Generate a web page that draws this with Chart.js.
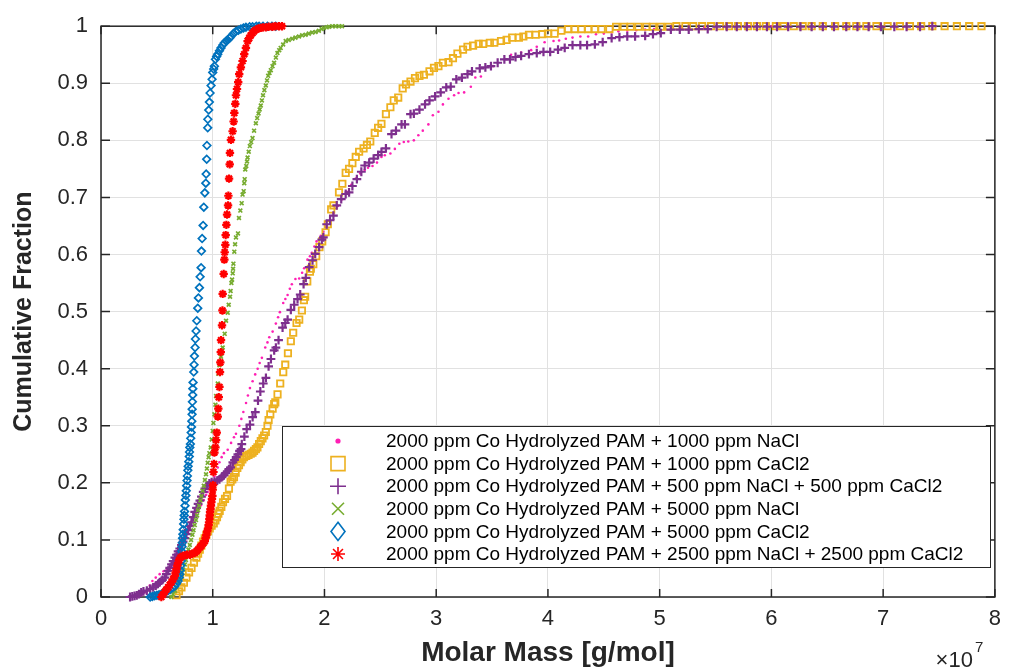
<!DOCTYPE html>
<html>
<head>
<meta charset="utf-8">
<script src="https://cdn.jsdelivr.net/npm/chart.js@4.4.1/dist/chart.umd.min.js"></script>
<style>
  html, body { margin: 0; padding: 0; background: #fff; }
  canvas { display: block; }
</style>
</head>
<body>
<canvas id="chart" width="1010" height="669"></canvas>
<script>
// molar mass in units of 1e7 g/mol, cumulative fraction
const nacl1000 = [
  [0.33,0],[0.36,0.003],[0.39,0.008],[0.42,0.014],[0.436,0.02],[0.46,0.028],[0.49,0.034],[0.525,0.04],
  [0.56,0.045],[0.59,0.049],[0.614,0.052],[0.635,0.057],[0.659,0.063],[0.675,0.069],[0.688,0.075],[0.703,0.082],
  [0.718,0.089],[0.733,0.097],[0.748,0.104],[0.762,0.111],[0.777,0.118],[0.792,0.125],[0.807,0.132],[0.83,0.14],
  [0.852,0.147],[0.875,0.154],[0.896,0.161],[0.92,0.17],[0.941,0.179],[0.955,0.184],[0.97,0.19],[0.985,0.197],
  [1.0,0.204],[1.015,0.211],[1.03,0.219],[1.045,0.227],[1.06,0.236],[1.08,0.245],[1.10,0.252],[1.134,0.258],
  [1.164,0.27],[1.19,0.28],[1.208,0.286],[1.238,0.3],[1.256,0.312],[1.274,0.324],[1.298,0.34],[1.315,0.353],
  [1.333,0.366],[1.357,0.378],[1.38,0.39],[1.402,0.4],[1.42,0.41],[1.44,0.419],[1.47,0.437],[1.49,0.446],
  [1.506,0.455],[1.536,0.465],[1.565,0.479],[1.585,0.49],[1.601,0.499],[1.631,0.515],[1.65,0.522],[1.67,0.529],
  [1.69,0.54],[1.708,0.548],[1.74,0.557],[1.774,0.558],[1.80,0.568],[1.818,0.576],[1.848,0.591],[1.87,0.597],
  [1.887,0.603],[1.91,0.614],[1.929,0.623],[1.967,0.633],[1.99,0.64],[2.02,0.65],[2.05,0.66],[2.08,0.672],
  [2.12,0.685],[2.16,0.697],[2.2,0.71],[2.24,0.722],[2.28,0.733],[2.32,0.742],[2.36,0.748],[2.39,0.752],
  [2.43,0.755],[2.47,0.761],[2.51,0.771],[2.54,0.774],[2.59,0.777],[2.63,0.785],[2.67,0.794],[2.71,0.797],
  [2.75,0.798],[2.80,0.80],[2.84,0.809],[2.88,0.817],[2.93,0.828],[2.97,0.844],[3.02,0.85],[3.06,0.863],
  [3.11,0.873],[3.16,0.879],[3.2,0.883],[3.25,0.884],[3.31,0.894],[3.35,0.91],[3.40,0.912],[3.51,0.93],
  [3.62,0.942],[3.67,0.95],[3.76,0.954],[3.85,0.958],[3.9,0.964],[3.97,0.972],[4.05,0.974],[4.1,0.975],
  [4.16,0.978],[4.22,0.98],[4.29,0.982],[4.36,0.982],[4.43,0.986],[4.5,0.987],[4.57,0.989],[4.63,0.991],
  [4.71,0.992],[4.79,0.993],[4.87,0.994],[4.95,0.995],[5.05,0.996],[5.2,0.997],[5.4,0.998],[5.6,0.999],
  [5.8,1],[6.0,1]
];
const cacl1000 = [
  [0.676,0.003],[0.698,0.01],[0.72,0.017],[0.742,0.025],[0.765,0.034],[0.788,0.043],[0.81,0.051],[0.832,0.06],
  [0.854,0.069],[0.869,0.076],[0.884,0.083],[0.898,0.09],[0.913,0.097],[0.928,0.103],[0.943,0.109],[0.958,0.115],
  [0.973,0.12],[0.99,0.125],[1.009,0.129],[1.024,0.134],[1.038,0.14],[1.05,0.146],[1.062,0.151],[1.077,0.158],
  [1.092,0.166],[1.11,0.172],[1.128,0.177],[1.145,0.19],[1.16,0.202],[1.175,0.206],[1.19,0.21],[1.205,0.218],
  [1.22,0.226],[1.235,0.231],[1.25,0.236],[1.265,0.241],[1.28,0.245],[1.30,0.247],[1.32,0.249],[1.34,0.251],
  [1.356,0.253],[1.37,0.256],[1.386,0.259],[1.40,0.262],[1.415,0.268],[1.43,0.273],[1.445,0.278],[1.46,0.283],
  [1.475,0.289],[1.49,0.3],[1.50,0.31],[1.515,0.32],[1.536,0.33],[1.55,0.338],[1.56,0.341],[1.58,0.355],
  [1.604,0.374],[1.631,0.394],[1.649,0.407],[1.673,0.427],[1.699,0.448],[1.72,0.463],[1.75,0.48],[1.774,0.486],
  [1.798,0.502],[1.816,0.52],[1.827,0.526],[1.846,0.553],[1.87,0.57],[1.878,0.575],[1.90,0.583],[1.926,0.597],
  [1.955,0.613],[1.98,0.623],[2.01,0.639],[2.03,0.653],[2.06,0.679],[2.08,0.686],[2.13,0.709],[2.16,0.724],
  [2.19,0.743],[2.22,0.75],[2.25,0.76],[2.28,0.771],[2.31,0.78],[2.35,0.786],[2.38,0.792],[2.41,0.798],
  [2.45,0.813],[2.48,0.822],[2.51,0.829],[2.55,0.846],[2.59,0.858],[2.62,0.87],[2.66,0.875],[2.70,0.891],
  [2.73,0.898],[2.77,0.903],[2.81,0.909],[2.85,0.913],[2.89,0.915],[2.94,0.921],[2.98,0.927],[3.02,0.93],
  [3.06,0.936],[3.11,0.937],[3.15,0.944],[3.19,0.952],[3.24,0.959],[3.28,0.964],[3.33,0.966],[3.38,0.969],
  [3.42,0.969],[3.48,0.971],[3.52,0.971],[3.58,0.974],[3.63,0.976],[3.68,0.98],[3.74,0.98],[3.78,0.982],
  [3.83,0.985],[3.89,0.985],[3.95,0.986],[4.0,0.987],[4.06,0.987],[4.12,0.992],[4.18,0.995],[4.24,0.995],
  [4.30,0.995],[4.36,0.995],[4.42,0.995],[4.48,0.995],[4.55,0.995],[4.61,0.999],[4.68,0.999],[4.74,0.999],
  [4.81,0.999],[4.88,0.999],[4.94,0.999],[5.01,0.999],[5.08,0.999],[5.15,1],[5.23,1],[5.30,1],
  [5.38,1],[5.46,1],[5.54,1],[5.62,1],[5.70,1],[5.79,1],[5.87,1],[5.95,1],
  [6.04,1],[6.11,1],[6.20,1],[6.28,1],[6.36,1],[6.46,1],[6.57,1],[6.67,1],
  [6.76,1],[6.85,1],[6.94,1],[7.04,1],[7.15,1],[7.24,1],[7.34,1],[7.44,1],
  [7.55,1],[7.66,1],[7.77,1],[7.88,1]
];
const mix500 = [
  [0.26,0],[0.28,0.001],[0.30,0.002],[0.32,0.003],[0.34,0.005],[0.36,0.008],[0.38,0.01],[0.41,0.011],
  [0.44,0.014],[0.467,0.017],[0.49,0.02],[0.51,0.023],[0.527,0.026],[0.55,0.03],[0.571,0.034],[0.585,0.04],
  [0.601,0.046],[0.615,0.051],[0.631,0.057],[0.646,0.063],[0.661,0.069],[0.676,0.074],[0.69,0.08],[0.705,0.085],
  [0.72,0.091],[0.735,0.097],[0.75,0.103],[0.765,0.11],[0.78,0.117],[0.795,0.124],[0.81,0.131],[0.825,0.14],
  [0.839,0.149],[0.855,0.156],[0.869,0.163],[0.885,0.169],[0.899,0.176],[0.915,0.184],[0.93,0.19],[0.95,0.195],
  [0.97,0.199],[0.99,0.201],[1.015,0.202],[1.04,0.204],[1.06,0.206],[1.08,0.21],[1.10,0.213],[1.115,0.217],
  [1.13,0.22],[1.145,0.224],[1.16,0.227],[1.18,0.236],[1.195,0.24],[1.21,0.245],[1.225,0.25],[1.24,0.256],
  [1.253,0.259],[1.26,0.268],[1.283,0.281],[1.304,0.294],[1.333,0.302],[1.357,0.315],[1.381,0.324],[1.405,0.344],
  [1.426,0.36],[1.452,0.374],[1.476,0.384],[1.5,0.404],[1.521,0.417],[1.55,0.432],[1.565,0.437],[1.589,0.45],
  [1.625,0.472],[1.649,0.48],[1.67,0.486],[1.699,0.503],[1.729,0.512],[1.759,0.522],[1.783,0.53],[1.813,0.548],
  [1.833,0.559],[1.863,0.578],[1.893,0.59],[1.917,0.601],[1.952,0.613],[1.976,0.626],[1.99,0.63],[2.02,0.653],
  [2.05,0.66],[2.08,0.668],[2.11,0.686],[2.15,0.697],[2.19,0.706],[2.22,0.709],[2.25,0.72],[2.29,0.732],
  [2.33,0.745],[2.36,0.756],[2.40,0.761],[2.44,0.768],[2.48,0.774],[2.51,0.78],[2.55,0.786],[2.60,0.811],
  [2.64,0.817],[2.69,0.828],[2.72,0.828],[2.77,0.846],[2.80,0.847],[2.85,0.854],[2.90,0.863],[2.94,0.87],
  [2.99,0.877],[3.04,0.884],[3.09,0.893],[3.13,0.894],[3.18,0.907],[3.23,0.91],[3.28,0.916],[3.32,0.921],
  [3.39,0.926],[3.44,0.928],[3.49,0.93],[3.55,0.936],[3.61,0.942],[3.66,0.942],[3.71,0.946],[3.76,0.948],
  [3.83,0.951],[3.90,0.953],[3.96,0.955],[4.02,0.955],[4.09,0.959],[4.15,0.962],[4.22,0.967],[4.29,0.967],
  [4.35,0.967],[4.42,0.968],[4.49,0.972],[4.57,0.979],[4.64,0.981],[4.71,0.982],[4.78,0.982],[4.87,0.983],
  [4.94,0.986],[5.01,0.988],[5.1,0.994],[5.18,0.994],[5.26,0.994],[5.35,0.995],[5.43,0.995],[5.51,0.999],
  [5.6,0.999],[5.69,0.999],[5.78,0.999],[5.87,0.999],[5.96,0.999],[6.05,0.999],[6.15,0.999],[6.26,0.999],
  [6.36,0.999],[6.46,0.999],[6.56,0.999],[6.67,0.999],[6.77,0.999],[6.87,0.999],[6.98,0.999],[7.1,0.999],
  [7.21,0.999],[7.33,0.999],[7.44,1]
];
const nacl5000 = [
  [0.63,0],[0.645,0.005],[0.661,0.011],[0.675,0.018],[0.69,0.026],[0.705,0.033],[0.72,0.04],[0.735,0.048],
  [0.75,0.057],[0.76,0.065],[0.77,0.074],[0.783,0.083],[0.795,0.091],[0.806,0.1],[0.818,0.109],[0.828,0.117],
  [0.839,0.126],[0.85,0.135],[0.86,0.143],[0.869,0.152],[0.878,0.16],[0.889,0.169],[0.899,0.177],[0.91,0.186],
  [0.92,0.195],[0.93,0.205],[0.94,0.215],[0.948,0.225],[0.955,0.235],[0.963,0.245],[0.97,0.252],[0.982,0.262],
  [0.991,0.276],[1.0,0.291],[1.006,0.305],[1.015,0.32],[1.024,0.337],[1.03,0.352],[1.045,0.374],[1.05,0.391],
  [1.06,0.406],[1.074,0.421],[1.089,0.437],[1.107,0.461],[1.119,0.484],[1.134,0.498],[1.143,0.512],[1.155,0.526],
  [1.16,0.536],[1.167,0.55],[1.173,0.556],[1.179,0.567],[1.182,0.575],[1.185,0.584],[1.193,0.605],[1.2,0.618],
  [1.208,0.63],[1.226,0.637],[1.235,0.664],[1.247,0.677],[1.259,0.69],[1.267,0.705],[1.277,0.711],[1.282,0.725],
  [1.286,0.732],[1.291,0.749],[1.3,0.755],[1.307,0.763],[1.312,0.77],[1.322,0.78],[1.332,0.79],[1.344,0.797],
  [1.356,0.804],[1.37,0.817],[1.386,0.83],[1.398,0.839],[1.41,0.847],[1.42,0.854],[1.43,0.861],[1.44,0.87],
  [1.45,0.879],[1.462,0.888],[1.475,0.896],[1.486,0.905],[1.496,0.913],[1.508,0.918],[1.52,0.923],[1.535,0.93],
  [1.549,0.936],[1.565,0.945],[1.579,0.953],[1.595,0.958],[1.608,0.962],[1.63,0.968],[1.653,0.974],[1.68,0.976],
  [1.712,0.978],[1.74,0.98],[1.772,0.982],[1.80,0.984],[1.831,0.985],[1.86,0.987],[1.89,0.989],[1.92,0.99],
  [1.95,0.992],[1.975,0.995],[1.994,0.997],[2.02,0.998],[2.04,0.999],[2.07,1],[2.1,1],[2.13,1],[2.157,1]
];
const cacl5000 = [
  [0.44,0],[0.46,0.001],[0.48,0.002],[0.50,0.003],[0.52,0.004],[0.54,0.005],[0.56,0.007],[0.58,0.009],
  [0.60,0.011],[0.62,0.013],[0.64,0.016],[0.66,0.019],[0.675,0.023],[0.69,0.028],[0.70,0.034],[0.705,0.04],
  [0.71,0.047],[0.715,0.055],[0.718,0.063],[0.72,0.072],[0.722,0.08],[0.725,0.088],[0.727,0.095],[0.73,0.103],
  [0.733,0.11],[0.736,0.118],[0.74,0.128],[0.742,0.136],[0.745,0.143],[0.748,0.15],[0.752,0.16],[0.755,0.17],
  [0.76,0.178],[0.763,0.186],[0.767,0.195],[0.77,0.204],[0.773,0.212],[0.777,0.222],[0.78,0.229],[0.786,0.237],
  [0.79,0.246],[0.792,0.254],[0.795,0.262],[0.80,0.268],[0.803,0.278],[0.807,0.288],[0.81,0.298],[0.813,0.308],
  [0.815,0.32],[0.816,0.329],[0.818,0.342],[0.821,0.354],[0.822,0.365],[0.824,0.376],[0.83,0.394],[0.833,0.407],
  [0.836,0.422],[0.842,0.437],[0.845,0.452],[0.851,0.466],[0.857,0.484],[0.866,0.506],[0.872,0.524],[0.881,0.542],
  [0.887,0.561],[0.896,0.577],[0.899,0.606],[0.905,0.628],[0.914,0.651],[0.92,0.683],[0.929,0.708],[0.938,0.725],
  [0.941,0.741],[0.946,0.767],[0.948,0.791],[0.955,0.822],[0.956,0.837],[0.964,0.853],[0.97,0.867],[0.976,0.883],
  [0.985,0.896],[0.994,0.907],[1.0,0.919],[1.008,0.925],[1.015,0.93],[1.024,0.942],[1.035,0.947],[1.045,0.951],
  [1.06,0.957],[1.074,0.962],[1.09,0.967],[1.104,0.971],[1.12,0.974],[1.134,0.976],[1.15,0.979],[1.163,0.982],
  [1.185,0.987],[1.208,0.991],[1.23,0.993],[1.252,0.995],[1.275,0.997],[1.297,0.998],[1.33,0.999],[1.356,0.999],
  [1.39,1],[1.415,1],[1.45,1],[1.49,1],[1.53,1],[1.564,1]
];
const mix2500 = [
  [0.54,0],[0.555,0.004],[0.571,0.009],[0.585,0.013],[0.601,0.017],[0.615,0.021],[0.631,0.026],[0.645,0.031],
  [0.661,0.037],[0.668,0.043],[0.676,0.049],[0.683,0.055],[0.69,0.06],[0.70,0.065],[0.711,0.069],[0.73,0.072],
  [0.75,0.073],[0.77,0.074],[0.795,0.074],[0.815,0.076],[0.839,0.077],[0.855,0.08],[0.869,0.083],[0.885,0.087],
  [0.899,0.09],[0.915,0.094],[0.929,0.098],[0.937,0.104],[0.943,0.109],[0.95,0.115],[0.958,0.12],[0.963,0.126],
  [0.967,0.131],[0.97,0.137],[0.973,0.143],[0.976,0.149],[0.98,0.154],[0.984,0.16],[0.988,0.166],[0.993,0.172],
  [0.997,0.177],[1.0,0.188],[1.003,0.196],[1.006,0.219],[1.012,0.233],[1.015,0.253],[1.024,0.262],[1.03,0.275],
  [1.036,0.288],[1.045,0.316],[1.05,0.33],[1.054,0.35],[1.06,0.368],[1.065,0.394],[1.068,0.411],[1.072,0.429],
  [1.074,0.45],[1.083,0.476],[1.087,0.502],[1.089,0.531],[1.098,0.566],[1.104,0.591],[1.107,0.604],[1.113,0.617],
  [1.116,0.634],[1.122,0.652],[1.128,0.67],[1.137,0.686],[1.14,0.703],[1.146,0.733],[1.152,0.758],[1.154,0.778],
  [1.163,0.801],[1.178,0.816],[1.187,0.833],[1.193,0.848],[1.202,0.864],[1.208,0.879],[1.217,0.89],[1.228,0.902],
  [1.237,0.916],[1.252,0.928],[1.267,0.939],[1.282,0.951],[1.297,0.962],[1.312,0.974],[1.326,0.979],[1.34,0.984],
  [1.356,0.988],[1.37,0.991],[1.386,0.994],[1.41,0.996],[1.43,0.997],[1.45,0.998],[1.475,0.998],[1.5,0.999],
  [1.534,0.999],[1.56,1],[1.593,1],[1.62,1]
];

const seriesLabels = [
  '2000 ppm Co Hydrolyzed PAM + 1000 ppm NaCl',
  '2000 ppm Co Hydrolyzed PAM + 1000 ppm CaCl2',
  '2000 ppm Co Hydrolyzed PAM + 500 ppm NaCl + 500 ppm CaCl2',
  '2000 ppm Co Hydrolyzed PAM + 5000 ppm NaCl',
  '2000 ppm Co Hydrolyzed PAM + 5000 ppm CaCl2',
  '2000 ppm Co Hydrolyzed PAM + 2500 ppm NaCl + 2500 ppm CaCl2'
];
const seriesData = [nacl1000, cacl1000, mix500, nacl5000, cacl5000, mix2500];
const seriesColors = ['#ff1fb4', '#edb120', '#7e2f8e', '#77ac30', '#0072bd', '#ff0000'];
const seriesMarkers = ['circle', 'rect', 'cross', 'crossRot', 'rectRot', 'star'];
const markerSizes = [1.3, 4.5, 4.4, 2.7, 3.8, 4.2];
const markerWidths = [0, 1.8, 2.2, 1.7, 1.7, 2.2];

const xTicks = [0, 1, 2, 3, 4, 5, 6, 7, 8];
const yTicks = [0, 0.1, 0.2, 0.3, 0.4, 0.5, 0.6, 0.7, 0.8, 0.9, 1];

const axisColor = '#262626';
const fontFamily = '"Liberation Sans", Arial, sans-serif';

// draw a marker shape (used in the legend)
function marker(ctx, style, x, y, r, color, lw) {
  ctx.save();
  ctx.strokeStyle = color;
  ctx.fillStyle = color;
  ctx.lineWidth = lw;
  ctx.beginPath();
  if (style === 'circle') {
    ctx.arc(x, y, r, 0, Math.PI * 2);
    ctx.fill();
  } else if (style === 'rect') {
    ctx.rect(x - r, y - r, 2 * r, 2 * r);
    ctx.stroke();
  } else if (style === 'cross') {
    ctx.moveTo(x - r, y); ctx.lineTo(x + r, y);
    ctx.moveTo(x, y - r); ctx.lineTo(x, y + r);
    ctx.stroke();
  } else if (style === 'crossRot') {
    ctx.moveTo(x - r, y - r); ctx.lineTo(x + r, y + r);
    ctx.moveTo(x - r, y + r); ctx.lineTo(x + r, y - r);
    ctx.stroke();
  } else if (style === 'rectRot') {
    ctx.moveTo(x, y - r * 1.3); ctx.lineTo(x + r, y);
    ctx.lineTo(x, y + r * 1.3); ctx.lineTo(x - r, y);
    ctx.closePath();
    ctx.stroke();
  } else if (style === 'star') {
    for (let k = 0; k < 4; k++) {
      const a = k * Math.PI / 4;
      ctx.moveTo(x - r * Math.cos(a), y - r * Math.sin(a));
      ctx.lineTo(x + r * Math.cos(a), y + r * Math.sin(a));
    }
    ctx.stroke();
  }
  ctx.restore();
}

const axesBox = {
  id: 'axesBox',
  beforeDatasetsDraw(chart) {
    const { ctx, chartArea: a, scales: { x, y } } = chart;
    ctx.save();
    ctx.strokeStyle = axisColor;
    ctx.lineWidth = 1.5;
    ctx.strokeRect(a.left, a.top, a.right - a.left, a.bottom - a.top);
    ctx.beginPath();
    x.ticks.forEach(t => {
      const px = x.getPixelForValue(t.value);
      ctx.moveTo(px, a.bottom); ctx.lineTo(px, a.bottom - 8);
      ctx.moveTo(px, a.top); ctx.lineTo(px, a.top + 8);
    });
    y.ticks.forEach(t => {
      const py = y.getPixelForValue(t.value);
      ctx.moveTo(a.left, py); ctx.lineTo(a.left + 9, py);
      ctx.moveTo(a.right, py); ctx.lineTo(a.right - 9, py);
    });
    ctx.stroke();
    ctx.restore();
  }
};

const legendBox = {
  id: 'legendBox',
  afterDatasetsDraw(chart) {
    const ctx = chart.ctx;
    const bx = 282, by = 426, bw = 708, bh = 141;
    ctx.save();
    ctx.fillStyle = '#ffffff';
    ctx.fillRect(bx, by, bw, bh);
    ctx.strokeStyle = axisColor;
    ctx.lineWidth = 1;
    ctx.strokeRect(bx + 0.5, by + 0.5, bw, bh);
    ctx.font = '19px ' + fontFamily;
    ctx.fillStyle = '#000';
    ctx.textBaseline = 'middle';
    const legendSizes = [2.6, 7, 8, 6, 7, 7];
    chart.data.datasets.forEach((ds, i) => {
      const ry = by + 15 + i * 22.6;
      marker(ctx, seriesMarkers[i], bx + 56, ry, legendSizes[i], seriesColors[i], 1.6);
      ctx.fillText(ds.label, bx + 104, ry + 1);
    });
    ctx.restore();
  }
};

const exponent = {
  id: 'exponent',
  afterDraw(chart) {
    const { ctx, chartArea: a } = chart;
    ctx.save();
    ctx.fillStyle = axisColor;
    ctx.textBaseline = 'alphabetic';
    ctx.font = '22px ' + fontFamily;
    ctx.textAlign = 'right';
    ctx.fillText('\u00d710', a.right - 22, 667);
    ctx.font = '15px ' + fontFamily;
    ctx.textAlign = 'left';
    ctx.fillText('7', a.right - 20, 652);
    ctx.restore();
  }
};

new Chart(document.getElementById('chart'), {
  type: 'scatter',
  data: {
    datasets: seriesData.map((pts, i) => ({
      label: seriesLabels[i],
      data: pts.map(p => ({ x: p[0], y: p[1] })),
      pointStyle: seriesMarkers[i],
      pointRadius: markerSizes[i],
      pointBorderWidth: markerWidths[i],
      borderColor: seriesColors[i],
      backgroundColor: i === 0 ? seriesColors[i] : 'rgba(0,0,0,0)',
      showLine: false,
      clip: false,
      order: seriesData.length - i
    }))
  },
  options: {
    responsive: false,
    animation: false,
    devicePixelRatio: 1,
    events: [],
    layout: { padding: { top: 18, right: 13, left: 0, bottom: 0 } },
    plugins: { legend: { display: false }, tooltip: { enabled: false } },
    scales: {
      x: {
        type: 'linear', min: 0, max: 8,
        afterBuildTicks: s => { s.ticks = xTicks.map(v => ({ value: v })); },
        afterFit: s => { s.height = 72; },
        grid: { color: '#e1e1e1', lineWidth: 1, drawTicks: false },
        border: { display: false },
        ticks: { color: axisColor, padding: 9, font: { family: fontFamily, size: 22 } },
        title: {
          display: true, text: 'Molar Mass [g/mol]', color: axisColor,
          padding: { top: 0, bottom: -1 },
          font: { family: fontFamily, size: 28, weight: 'bold' }
        }
      },
      y: {
        type: 'linear', min: 0, max: 1,
        afterBuildTicks: s => { s.ticks = yTicks.map(v => ({ value: v })); },
        afterFit: s => { s.width = 101; },
        grid: { color: '#e1e1e1', lineWidth: 1, drawTicks: false },
        border: { display: false },
        ticks: {
          color: axisColor, padding: 13,
          font: { family: fontFamily, size: 22 },
          callback: v => (v === 0 || v === 1) ? String(v) : v.toFixed(1)
        },
        title: {
          display: true, text: 'Cumulative Fraction', color: axisColor,
          padding: { top: 9, bottom: 0 },
          font: { family: fontFamily, size: 25, weight: 'bold' }
        }
      }
    }
  },
  plugins: [axesBox, legendBox, exponent]
});
</script>
</body>
</html>
